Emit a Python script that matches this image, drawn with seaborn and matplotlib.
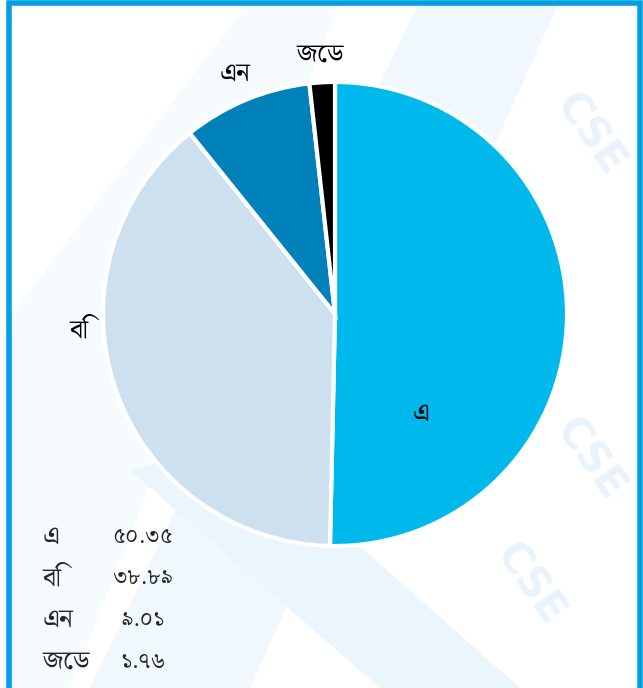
import matplotlib
matplotlib.use("Agg")
import matplotlib.pyplot as plt
import seaborn as sns
from matplotlib import font_manager
from matplotlib.patches import Rectangle, Polygon

categories = ["এ", "বি", "এন", "জেড"]
shares = [50.35, 38.89, 9.01, 1.76]
share_labels = ["৫০.৩৫", "৩৮.৮৯", "৯.০১", "১.৭৬"]
colors = ["#00b9ec", "#cde0f0", "#0081b9", "#000000"]

sns.set_theme(style="white")

installed = {f.name for f in font_manager.fontManager.ttflist}
bengali = [f for f in ["Noto Serif Bengali", "Noto Sans Bengali", "Lohit Bengali",
                       "Mukti Narrow", "FreeSerif", "FreeSans"] if f in installed]
plt.rcParams["font.family"] = bengali + ["DejaVu Sans"]

W, H = 643, 688
fig = plt.figure(figsize=(W / 100, H / 100), dpi=100)
fig.patch.set_facecolor("white")

# faint background watermark
def px(x, y):
    return (x / W, 1 - y / H)

bands = [
    [(0, 330), (0, 688), (70, 688), (340, 0), (250, 0)],
    [(90, 688), (250, 688), (560, 0), (420, 0)],
    [(130, 470), (380, 688), (520, 688), (240, 440)],
]
for pts, c in zip(bands, ["#f6fbfe", "#f0f7fd", "#ebf5fc"]):
    fig.patches.append(Polygon([px(*p) for p in pts], closed=True,
                               transform=fig.transFigure, facecolor=c,
                               edgecolor="none", zorder=0))
for x, y in [(590, 135), (590, 460), (530, 585)]:
    fig.text(x / W, 1 - y / H, "CSE", rotation=-55, fontsize=30, fontweight="bold",
             color="#e8f3fb", ha="center", va="center", family="DejaVu Sans", zorder=0)

cx, cy, r = 335, 314, 232
ax = fig.add_axes([0, 0, 1, 1])
ax.set_zorder(2)
ax.patch.set_alpha(0)
wedges, texts = ax.pie(
    shares,
    labels=categories,
    colors=colors,
    startangle=90,
    counterclock=False,
    labeldistance=1.12,
    wedgeprops=dict(edgecolor="white", linewidth=3),
    textprops=dict(fontsize=19, color="black"),
)
ax.set_xlim(-cx / r, (W - cx) / r)
ax.set_ylim(-(H - cy) / r, cy / r)
ax.set_aspect("equal")
ax.axis("off")

texts[0].set_position((0.37, -0.43))
texts[1].set_position((-1.10, -0.07))
for t in texts:
    t.set_va("center")
    t.set_ha("center")

for i, (cat, val) in enumerate(zip(categories, share_labels)):
    y = 537 + i * 41.5
    fig.text(43 / W, 1 - y / H, cat, fontsize=19, ha="left", va="center", zorder=3)
    fig.text(143 / W, 1 - y / H, val, fontsize=16, ha="center", va="center", zorder=3)

fig.patches.append(Rectangle((8.5 / W, -0.01), (639.5 - 8.5) / W, 1 - 2.5 / H + 0.01,
                             transform=fig.transFigure, fill=False,
                             edgecolor="#00a0e3", linewidth=4, zorder=5))

fig.savefig("out.png", dpi=100)
